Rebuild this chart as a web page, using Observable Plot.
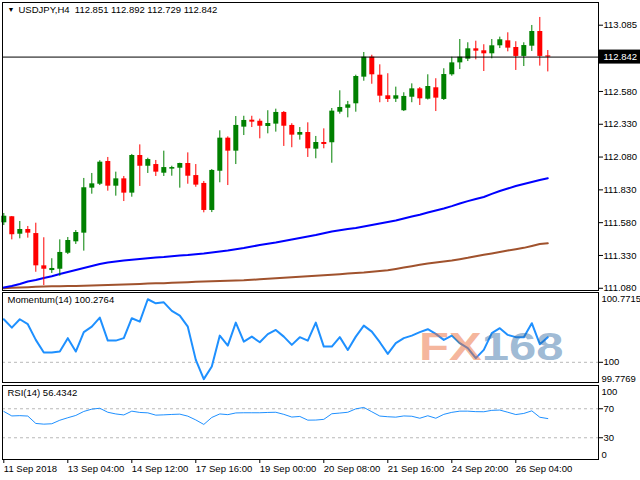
<!DOCTYPE html>
<html><head><meta charset="utf-8">
<script src="https://cdn.jsdelivr.net/npm/d3@7"></script>
<script src="https://cdn.jsdelivr.net/npm/@observablehq/plot@0.6"></script>
<style>
body{margin:0;background:#fff;}
#wrap{position:relative;width:640px;height:480px;overflow:hidden;background:#fff;}
#wrap svg{position:absolute;left:0;}
#wm{position:absolute;left:419px;top:328px;font-family:"Liberation Sans",Arial,sans-serif;font-weight:bold;font-size:38px;line-height:38px;transform:scaleX(1.29);transform-origin:0 0;white-space:nowrap;pointer-events:none;}
#wm .a{color:rgba(235,110,60,0.5);} #wm .b{color:rgba(40,100,160,0.45);}
</style></head><body><div id="wrap"><div id="wm"><span class="a">FX</span><span class="b">168</span></div></div>
<script>
const symbolTitle = "USDJPY,H4\u00a0\u00a0112.851 112.892 112.729 112.842";
const open = [111.579,111.625,111.492,111.528,111.497,111.251,111.215,111.225,111.347,111.434,
111.500,111.843,111.873,112.046,111.858,111.914,111.805,112.092,112.010,112.023,
111.957,111.988,111.995,112.031,111.939,111.879,111.673,111.972,112.224,112.125,
112.308,112.361,112.353,112.313,112.331,112.420,112.321,112.247,112.267,112.140,
112.191,112.189,112.422,112.452,112.486,112.689,112.841,112.704,112.547,112.521,
112.433,112.536,112.600,112.521,112.608,112.519,112.707,112.798,112.826,112.905,
112.890,112.867,112.928,112.966,112.915,112.847,112.925,113.037,112.851];
const high = [111.650,111.627,111.589,111.551,111.576,111.465,111.305,111.449,111.467,111.520,
111.917,111.955,112.052,112.077,111.965,111.932,112.100,112.173,112.071,112.054,
112.125,112.010,112.033,112.112,112.023,111.894,111.985,112.280,112.234,112.389,
112.391,112.391,112.369,112.433,112.445,112.427,112.334,112.305,112.341,112.237,
112.295,112.450,112.585,112.504,112.704,112.877,112.856,112.783,112.715,112.613,
112.570,112.638,112.610,112.707,112.677,112.753,112.841,112.976,112.951,112.963,
112.936,112.976,112.994,113.027,112.959,112.951,113.083,113.144,112.892];
const low = [111.558,111.449,111.457,111.462,111.202,111.101,111.193,111.172,111.337,111.414,
111.363,111.797,111.863,111.820,111.782,111.741,111.774,111.856,111.955,111.932,
111.932,111.934,111.843,111.873,111.850,111.655,111.657,111.884,111.863,112.023,
112.244,112.305,112.219,112.257,112.270,112.161,112.151,112.209,112.077,112.067,
112.143,112.033,112.407,112.379,112.422,112.658,112.635,112.494,112.496,112.496,
112.427,112.494,112.473,112.515,112.427,112.511,112.696,112.747,112.808,112.821,
112.732,112.829,112.907,112.882,112.740,112.770,112.885,112.773,112.729];
const close = [111.629,111.488,111.528,111.500,111.251,111.225,111.231,111.353,111.444,111.505,
111.846,111.876,112.041,111.858,111.914,111.805,112.092,112.010,112.061,111.965,
112.000,112.000,112.031,111.934,111.866,111.673,111.978,112.224,112.125,112.321,
112.359,112.346,112.315,112.336,112.420,112.315,112.247,112.267,112.143,112.191,
112.176,112.430,112.458,112.478,112.694,112.841,112.707,112.544,112.519,112.547,
112.542,112.600,112.524,112.618,112.529,112.709,112.798,112.841,112.905,112.887,
112.867,112.928,112.974,112.910,112.847,112.930,113.037,112.847,112.842];
const maFast = [111.086,111.097,111.113,111.132,111.143,111.158,111.172,111.189,111.204,111.219,
111.234,111.250,111.265,111.276,111.284,111.292,111.298,111.303,111.309,111.314,
111.318,111.324,111.330,111.334,111.340,111.345,111.353,111.360,111.368,111.378,
111.387,111.398,111.410,111.420,111.429,111.440,111.452,111.463,111.475,111.486,
111.500,111.513,111.522,111.532,111.539,111.551,111.562,111.574,111.585,111.597,
111.612,111.627,111.641,111.657,111.673,111.688,111.706,111.726,111.744,111.760,
111.776,111.799,111.821,111.840,111.859,111.875,111.890,111.905,111.919];
const maSlow = [111.081,111.084,111.086,111.088,111.091,111.093,111.095,111.096,111.097,111.098,
111.100,111.101,111.103,111.105,111.107,111.109,111.111,111.113,111.116,111.118,
111.119,111.122,111.124,111.126,111.129,111.131,111.133,111.135,111.138,111.139,
111.141,111.145,111.148,111.152,111.156,111.160,111.164,111.167,111.171,111.175,
111.179,111.183,111.187,111.192,111.196,111.200,111.206,111.212,111.217,111.227,
111.238,111.248,111.259,111.269,111.276,111.284,111.292,111.302,111.312,111.324,
111.335,111.345,111.356,111.368,111.378,111.388,111.402,111.417,111.423];
const momentum = [100.476,100.383,100.476,100.421,100.248,100.108,100.108,100.119,100.267,100.119,
100.333,100.394,100.494,100.240,100.240,100.267,100.487,100.450,100.697,100.652,
100.663,100.568,100.516,100.394,100.027,99.814,99.953,100.295,100.185,100.439,
100.229,100.284,100.222,100.311,100.358,100.284,100.193,100.278,100.240,100.439,
100.174,100.174,100.278,100.137,100.284,100.405,100.339,100.222,100.093,100.211,
100.267,100.295,100.333,100.366,100.314,100.248,100.295,100.211,100.156,100.046,
100.137,100.322,100.377,100.303,100.278,100.278,100.432,100.200,100.2764];
const rsi = [66.28,60.07,60.48,59.93,49.72,48.76,49.31,54.14,57.59,60.76,
66.28,69.45,70.69,65.17,62.83,61.45,66.69,64.90,64.34,61.17,
61.59,62.14,62.55,59.79,54.55,48.34,58.00,62.83,61.86,64.21,
64.48,64.48,64.48,64.90,65.17,62.28,58.55,59.38,54.28,54.41,
55.38,63.10,64.07,65.17,69.86,71.79,65.86,59.93,58.97,58.41,
60.07,59.66,56.90,60.34,56.90,62.28,65.03,66.69,66.69,66.00,
65.86,67.79,68.21,65.17,62.00,63.52,67.10,58.28,56.4342];
const priceTicks = [113.085,112.580,112.330,112.080,111.830,111.580,111.330,111.080];
const priceDomain = [111.063,113.258];
const momDomain = [99.7769,100.7715];
const momLevel = 100;
const rsiLevels = [70,30];
const dateTickBars = [0,8,16,24,32,40,48,56,64];
const dateLabels = ["11 Sep 2018","13 Sep 04:00","14 Sep 12:00","17 Sep 16:00","19 Sep 00:00","20 Sep 08:00","21 Sep 16:00","24 Sep 20:00","26 Sep 04:00"];

const N = close.length;
const bull = "#008000", bear = "#ff0000";
const candles = close.map((c,i)=>({i, o:open[i], h:high[i], l:low[i], c, col: c>=open[i]?bull:bear}));
const series = a => a.map((v,i)=>({i,v}));
const FONT = "'Liberation Sans', Arial, sans-serif";
const style = {fontFamily: FONT, fontSize: "9.5px", background: "transparent", overflow: "visible", color: "#000"};
const xScale = {domain:[0,N-1], range:[3.3,547.3], axis:null, label:null};
const wrap = document.getElementById("wrap");
const f3 = d3.format(".3f"), f4 = d3.format(".4f");

// main price panel
const main = Plot.plot({
  width:640, height:292, marginTop:2, marginBottom:2, marginLeft:2, marginRight:42,
  style, x: xScale, y:{domain: priceDomain, axis:null, label:null},
  marks:[
    Plot.line(series(maSlow), {x:"i", y:"v", stroke:"#a0522d", strokeWidth:2}),
    Plot.line(series(maFast), {x:"i", y:"v", stroke:"#0000ff", strokeWidth:2}),
    Plot.ruleX(candles, {x:"i", y1:"l", y2:"h", stroke:"col", strokeWidth:1}),
    Plot.ruleX(candles, {x:"i", y1:"o", y2:"c", stroke:"col", strokeWidth:5}),
    Plot.ruleY([close[N-1]], {stroke:"#000", strokeWidth:1}),
    Plot.frame({stroke:"#000"}),
    Plot.axisY(priceTicks, {anchor:"right", label:null, tickSize:4, tickPadding:1, tickFormat:f3, fill:"#000"}),
    Plot.text(["\u25BC"], {frameAnchor:"top-left", dx:5, dy:5, fontSize:7, lineAnchor:"top", textAnchor:"start", fill:"#000"}),
    Plot.text([symbolTitle], {frameAnchor:"top-left", dx:16, dy:4, lineAnchor:"top", textAnchor:"start", fill:"#000"}),
    Plot.text([close[N-1]], {y:d=>d, frameAnchor:"right", textAnchor:"start", dx:5, text:f3, fill:"#fff"})
  ]
});
main.style.top = "0px";
const yP = main.scale("y").apply(close[N-1]);
d3.select(main).insert("rect", ":scope > :last-child")
  .attr("x", 599).attr("y", yP - 7).attr("width", 41).attr("height", 14).attr("fill", "#000");
wrap.appendChild(main);

// momentum panel
const momLast = momentum[N-1];
const mom = Plot.plot({
  width:640, height:94, marginTop:2, marginBottom:2, marginLeft:2, marginRight:42,
  style, x: xScale, y:{domain: momDomain, axis:null, label:null},
  marks:[
    Plot.ruleY([momLevel], {stroke:"#b8b8b8", strokeDasharray:"3,3"}),
    Plot.line(series(momentum), {x:"i", y:"v", stroke:"#1e90ff", strokeWidth:2}),
    Plot.frame({stroke:"#000"}),
    Plot.axisY([momLevel], {anchor:"right", label:null, tickSize:4, tickPadding:1, tickFormat:d=>String(d), fill:"#000"}),
    Plot.text([momDomain[1]], {y:d=>d, frameAnchor:"right", textAnchor:"start", lineAnchor:"top", dx:3, dy:3, text:f4, fill:"#000"}),
    Plot.text([momDomain[0]], {y:d=>d, frameAnchor:"right", textAnchor:"start", lineAnchor:"bottom", dx:3, dy:-1, text:f4, fill:"#000"}),
    Plot.text(["Momentum(14) " + f4(momLast)], {frameAnchor:"top-left", dx:5, dy:4, lineAnchor:"top", textAnchor:"start", fill:"#000"})
  ]
});
mom.style.top = "290px";
wrap.appendChild(mom);

// RSI panel
const rsiPlot = Plot.plot({
  width:640, height:97, marginTop:2, marginBottom:21, marginLeft:2, marginRight:42,
  style, x: xScale, y:{domain:[0,100], range:[76,3.5], axis:null, label:null},
  marks:[
    Plot.ruleY(rsiLevels, {stroke:"#b8b8b8", strokeDasharray:"3,3"}),
    Plot.line(series(rsi), {x:"i", y:"v", stroke:"#1e90ff", strokeWidth:1}),
    Plot.frame({stroke:"#000"}),
    Plot.axisY(rsiLevels, {anchor:"right", label:null, tickSize:4, tickPadding:1, tickFormat:d=>String(d), fill:"#000"}),
    Plot.text([100], {y:d=>d, frameAnchor:"right", textAnchor:"start", lineAnchor:"top", dx:3, dy:1, text:d=>String(d), fill:"#000"}),
    Plot.text([0], {y:d=>d, frameAnchor:"right", textAnchor:"start", lineAnchor:"bottom", dx:3, dy:-2, text:d=>String(d), fill:"#000"}),
    Plot.axisX(dateTickBars, {anchor:"bottom", label:null, tickSize:4, tickPadding:2, textAnchor:"start", tickFormat:d=>dateLabels[dateTickBars.indexOf(d)], fill:"#000"}),
    Plot.text(["RSI(14) " + f4(rsi[N-1])], {frameAnchor:"top-left", dx:5, dy:4, lineAnchor:"top", textAnchor:"start", fill:"#000"})
  ]
});
rsiPlot.style.top = "383px";
wrap.appendChild(rsiPlot);
wrap.appendChild(document.getElementById("wm"));
</script>
</body></html>
